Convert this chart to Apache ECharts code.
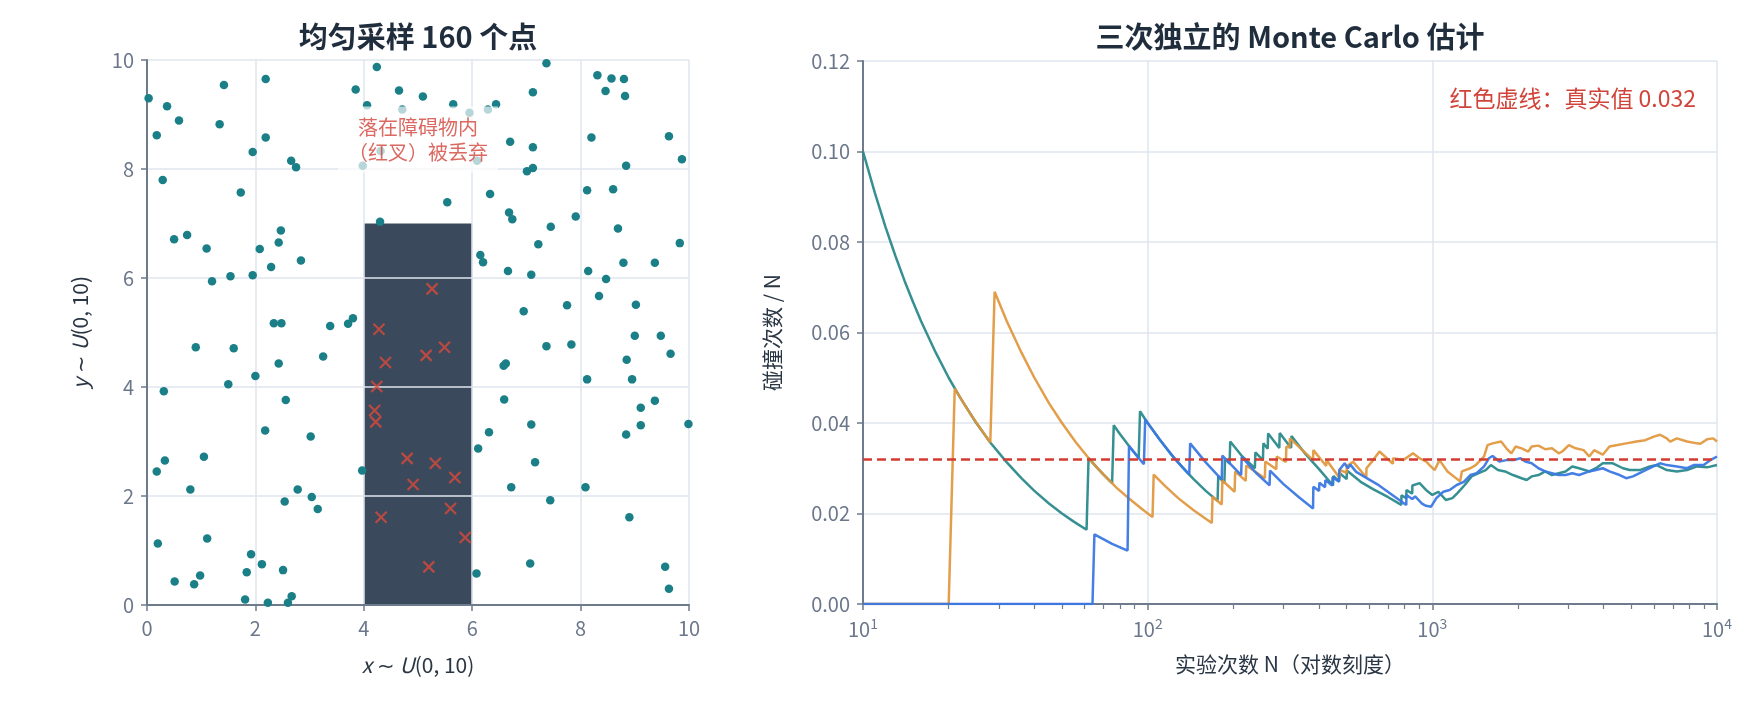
<!DOCTYPE html>
<html>
<head>
<meta charset="utf-8">
<script src="https://cdn.jsdelivr.net/npm/echarts@6/dist/echarts.min.js"></script>
<style>
  html, body { margin: 0; padding: 0; background: #fff; }
  #chart { width: 1760px; height: 704px; }
</style>
</head>
<body>
<div id="chart"></div>
<script>
// ---- 左图：均匀采样的点 ----
const dotPoints = [
  [0.03, 9.30], [0.18, 8.62], [0.37, 9.15], [0.59, 8.89], [0.29, 7.80], [1.42, 9.54], [1.34, 8.82],
  [2.19, 9.65], [2.19, 8.58], [1.95, 8.31], [2.66, 8.15], [2.75, 8.03], [1.73, 7.57], [0.50, 6.71],
  [0.74, 6.79], [1.10, 6.54], [1.20, 5.94], [1.54, 6.03], [1.95, 6.05], [2.08, 6.53], [2.29, 6.20],
  [2.43, 6.65], [2.47, 6.87], [2.84, 6.32], [3.85, 9.46], [4.06, 9.17],
  [4.24, 9.87], [4.65, 9.44], [5.09, 9.33], [5.65, 9.19], [4.71, 9.09], [5.95, 9.03], [6.29, 9.09],
  [6.44, 9.19], [7.12, 9.41], [7.37, 9.94], [8.31, 9.72], [8.57, 9.66], [8.46, 9.43], [8.20, 8.58],
  [6.70, 8.50], [7.12, 8.40], [7.12, 8.02], [7.01, 7.96], [4.31, 8.33], [3.98, 8.06], [6.09, 8.15],
  [5.54, 7.39], [4.30, 7.03], [6.33, 7.54], [6.68, 7.20], [6.74, 7.08], [7.45, 6.94], [7.22, 6.62],
  [7.91, 7.13], [8.12, 7.61], [8.60, 7.63], [8.69, 6.91], [6.15, 6.42], [6.20, 6.29], [6.66, 6.13],
  [7.09, 6.06], [8.14, 6.13], [8.47, 5.98], [8.34, 5.67], [8.80, 9.65], [8.82, 9.34], [8.84, 8.06],
  [8.79, 6.28],
  [9.63, 8.60], [9.87, 8.18], [9.83, 6.64], [9.37, 6.28], [9.02, 5.51], [9.00, 4.94], [9.48, 4.94],
  [9.66, 4.61], [8.95, 4.14], [9.37, 3.75], [9.11, 3.62], [9.11, 3.30], [9.99, 3.32], [9.56, 0.70],
  [9.63, 0.30],
  [2.34, 5.17], [2.48, 5.17], [3.38, 5.12], [3.71, 5.16], [3.80, 5.26], [0.90, 4.73], [1.60, 4.71],
  [2.43, 4.43], [3.25, 4.56], [1.50, 4.05], [2.00, 4.20], [0.31, 3.92], [2.56, 3.76], [2.18, 3.20],
  [3.02, 3.09], [1.05, 2.72], [0.33, 2.65], [0.18, 2.45], [3.97, 2.47], [0.80, 2.12], [2.78, 2.12],
  [3.04, 1.98], [2.54, 1.90], [3.15, 1.76], [0.20, 1.13], [1.11, 1.22],
  [1.92, 0.93], [2.12, 0.75], [2.51, 0.64], [1.84, 0.60], [0.51, 0.43], [0.87, 0.38], [0.98, 0.54],
  [1.81, 0.10], [2.23, 0.04], [2.60, 0.04], [2.67, 0.16],
  [6.95, 5.39], [7.75, 5.50], [7.37, 4.75], [7.83, 4.78], [6.58, 4.39], [6.62, 4.43], [8.12, 4.14],
  [6.59, 3.77], [7.09, 3.31], [6.31, 3.17], [6.11, 2.87], [7.16, 2.62], [6.72, 2.16], [8.09, 2.16],
  [7.44, 1.92], [8.85, 4.50], [8.84, 3.13], [8.90, 1.61], [7.07, 0.76], [6.08, 0.58]
]
// 落在障碍物内的点（红叉）
const crossPoints = [
  [5.26, 5.80], [4.28, 5.06], [5.49, 4.73], [5.15, 4.58], [4.40, 4.45], [4.24, 4.01], [4.20, 3.57],
  [4.22, 3.36], [4.80, 2.69], [5.32, 2.60], [5.68, 2.34], [4.91, 2.21], [4.32, 1.61], [5.60, 1.77],
  [5.87, 1.24], [5.20, 0.70]
]
// 障碍物：x0, y0, x1, y1
const obstacle = [4, 0, 6, 7]
const noteAt = [5, 8.54]
const noteText = '落在障碍物内\n（红叉）被丢弃'

// ---- 右图：三次运行的 碰撞次数 / N ----
const tealRun = [
  [10, 0.1000], [11, 0.0909], [12, 0.0833], [13, 0.0769], [14, 0.0714], [15, 0.0667], [16, 0.0625],
  [18, 0.0556], [20, 0.0500], [22, 0.0455], [25, 0.0400], [28, 0.0357], [32, 0.0313], [36, 0.0278],
  [40, 0.0250], [45, 0.0222], [50, 0.0200], [55, 0.0182], [61, 0.0164],
  [62, 0.0323], [66, 0.0303], [70, 0.0286], [75, 0.0267],
  [76, 0.0395], [80, 0.0375], [86, 0.0349], [93, 0.0323],
  [94, 0.0426], [100, 0.0400], [110, 0.0364], [120, 0.0333], [132, 0.0303], [145, 0.0276], [160, 0.0250],
  [176, 0.0228], [177, 0.0282], [186, 0.0268], [187, 0.0321], [194, 0.0310], [195, 0.0359], [215, 0.0326],
  [238, 0.0300], [239, 0.0335], [254, 0.0318], [255, 0.0355], [264, 0.0343], [265, 0.0377], [290, 0.0345],
  [291, 0.0378], [319, 0.0345], [320, 0.0371], [360, 0.0330], [400, 0.0298], [448, 0.0262], [449, 0.0283],
  [470, 0.0271], [471, 0.0290], [500, 0.0276], [501, 0.0295], [560, 0.0270], [619, 0.0254], [700, 0.0236],
  [778, 0.0219], [779, 0.0240], [810, 0.0234], [811, 0.0252], [850, 0.0244], [851, 0.0262],
  [902, 0.0267], [950, 0.0252], [1000, 0.0241], [1050, 0.0248], [1115, 0.0230], [1176, 0.0234],
  [1225, 0.0245], [1300, 0.0263], [1374, 0.0282], [1455, 0.0289], [1540, 0.0296], [1606, 0.0307],
  [1700, 0.0296], [1800, 0.0293], [1920, 0.0285], [2059, 0.0278], [2145, 0.0274], [2234, 0.0282],
  [2360, 0.0285], [2492, 0.0293], [2632, 0.0285], [2780, 0.0289], [2937, 0.0293], [3101, 0.0304],
  [3276, 0.0300], [3559, 0.0293], [3758, 0.0300], [3969, 0.0311], [4306, 0.0311], [4674, 0.0300],
  [4936, 0.0296], [5357, 0.0296], [5812, 0.0304], [6138, 0.0307], [6660, 0.0296], [7229, 0.0293],
  [7846, 0.0296], [8510, 0.0304], [9232, 0.0302], [10000, 0.0307]
]
const orangeRun = [
  [10, 0], [20, 0], [21, 0.0476], [24, 0.0417], [28, 0.0357], [29, 0.0690], [32, 0.0625], [36, 0.0556],
  [40, 0.0500], [45, 0.0444], [50, 0.0400], [56, 0.0357], [63, 0.0317], [70, 0.0286], [78, 0.0256],
  [86, 0.0233], [95, 0.0211], [104, 0.0192], [105, 0.0286], [115, 0.0261], [128, 0.0234], [145, 0.0207],
  [168, 0.0179], [169, 0.0237], [182, 0.0220], [183, 0.0273], [202, 0.0248], [203, 0.0293], [221, 0.0272],
  [222, 0.0306], [258, 0.0278], [259, 0.0315], [283, 0.0298], [284, 0.0326], [306, 0.0314], [307, 0.0348],
  [315, 0.0346], [316, 0.0366], [381, 0.0318], [382, 0.0340], [424, 0.0305], [425, 0.0318], [473, 0.0278],
  [474, 0.0296], [500, 0.0290], [501, 0.0305], [527, 0.0314], [586, 0.0280], [587, 0.0300], [620, 0.0318],
  [652, 0.0337], [727, 0.0310], [728, 0.0322], [790, 0.0318], [855, 0.0333], [902, 0.0322], [950, 0.0315],
  [978, 0.0307], [1019, 0.0296], [1060, 0.0318], [1130, 0.0293], [1252, 0.0271], [1270, 0.0293],
  [1360, 0.0300], [1420, 0.0307], [1520, 0.0326], [1563, 0.0351], [1628, 0.0355], [1744, 0.0359],
  [1820, 0.0344], [1895, 0.0333], [1960, 0.0348], [2059, 0.0344], [2174, 0.0337], [2234, 0.0348],
  [2360, 0.0350], [2492, 0.0342], [2632, 0.0344], [2780, 0.0333], [2860, 0.0337], [3018, 0.0351],
  [3188, 0.0344], [3400, 0.0340], [3559, 0.0326], [3700, 0.0340], [3969, 0.0330], [4191, 0.0348],
  [4426, 0.0351], [4800, 0.0355], [5213, 0.0359], [5600, 0.0362], [6000, 0.0370], [6308, 0.0374],
  [6660, 0.0366], [6846, 0.0359], [7229, 0.0366], [7846, 0.0359], [8510, 0.0355], [8745, 0.0354],
  [9232, 0.0364], [9700, 0.0366], [10000, 0.0359]
]
const blueRun = [
  [10, 0], [64, 0], [65, 0.0154], [75, 0.0133], [85, 0.0118], [86, 0.0349], [92, 0.0326], [97, 0.0309],
  [98, 0.0408], [110, 0.0364], [125, 0.0320], [140, 0.0286], [141, 0.0355], [160, 0.0313], [182, 0.0275],
  [183, 0.0328], [213, 0.0285], [214, 0.0325], [240, 0.0290], [268, 0.0262], [269, 0.0295], [300, 0.0265],
  [340, 0.0236], [381, 0.0211], [382, 0.0259], [400, 0.0250], [401, 0.0268], [420, 0.0258], [421, 0.0274],
  [445, 0.0262], [446, 0.0280], [470, 0.0270], [471, 0.0296], [492, 0.0311], [505, 0.0300], [515, 0.0308],
  [540, 0.0292], [650, 0.0262], [810, 0.0219], [811, 0.0241], [850, 0.0232], [870, 0.0238], [920, 0.0222],
  [950, 0.0217], [990, 0.0215], [1033, 0.0234], [1093, 0.0248], [1150, 0.0252], [1218, 0.0263],
  [1290, 0.0270], [1360, 0.0285], [1430, 0.0289], [1520, 0.0304], [1580, 0.0322], [1628, 0.0327],
  [1720, 0.0315], [1820, 0.0318], [1930, 0.0318], [2040, 0.0322], [2120, 0.0315], [2234, 0.0311],
  [2360, 0.0300], [2492, 0.0293], [2632, 0.0289], [2780, 0.0285], [2937, 0.0285], [3101, 0.0289],
  [3276, 0.0285], [3559, 0.0293], [3758, 0.0296], [3969, 0.0300], [4191, 0.0293], [4550, 0.0285],
  [4800, 0.0278], [5070, 0.0282], [5500, 0.0293], [5980, 0.0304], [6308, 0.0311], [6660, 0.0307],
  [7229, 0.0304], [7846, 0.0300], [8280, 0.0307], [8980, 0.0307], [9485, 0.0318], [10000, 0.0326]
]
const trueValue = 0.032
const minorTickValues = [20, 30, 40, 50, 60, 70, 80, 90, 200, 300, 400, 500, 600, 700, 800, 900,
  2000, 3000, 4000, 5000, 6000, 7000, 8000, 9000]

const FONT = '"Noto Sans CJK SC", "Noto Sans", sans-serif'
const C = {
  title: '#1f2d3d', name: '#2b3645', tick: '#6b778a', axis: '#6e7b8c', grid: '#dfe6ee',
  dot: '#1b7f87', cross: '#d9493b', block: '#3a4a5c',
  teal: '#2b8a8c', orange: '#e0963c', blue: '#3b78e3', red: '#d23b30'
}

const axisBase = {
  axisLine: { lineStyle: { color: C.axis, width: 2 } },
  axisTick: { length: 6, lineStyle: { color: C.axis, width: 1.5 } },
  axisLabel: { color: C.tick, fontSize: 20, fontFamily: FONT, margin: 13 },
  splitLine: { show: true, lineStyle: { color: C.grid, width: 1.5 } },
  nameTextStyle: {
    color: C.name, fontSize: 21, fontFamily: FONT,
    rich: { i: { fontStyle: 'italic', fontSize: 21, fontFamily: FONT, color: C.name } }
  }
}

const chart = echarts.init(document.getElementById('chart'), null, { renderer: 'canvas' })

chart.setOption({
  animation: false,
  backgroundColor: '#ffffff',
  textStyle: { fontFamily: FONT },
  graphic: [
    { type: 'text', x: 418, y: 37, style: { text: '均匀采样 160 个点', fill: C.title, font: 'bold 29px ' + FONT, textAlign: 'center', textVerticalAlign: 'middle' } },
    { type: 'text', x: 1290, y: 37, style: { text: '三次独立的 Monte Carlo 估计', fill: C.title, font: 'bold 29px ' + FONT, textAlign: 'center', textVerticalAlign: 'middle' } },
    { type: 'text', x: 1696, y: 98, z: 20, style: { text: '红色虚线：真实值 0.032', fill: '#d1443a', font: '23px ' + FONT, textAlign: 'right', textVerticalAlign: 'middle' } }
  ],
  grid: [
    { left: 147, top: 60, width: 542, height: 545 },
    { left: 863, top: 61, width: 854, height: 543 }
  ],
  xAxis: [
    Object.assign({}, axisBase, {
      gridIndex: 0, type: 'value', min: 0, max: 10, interval: 2, z: 2,
      name: '{i|x} ∼ {i|U}(0, 10)', nameLocation: 'middle', nameGap: 50
    }),
    Object.assign({}, axisBase, {
      gridIndex: 1, type: 'log', logBase: 10, min: 10, max: 10000,
      axisLabel: Object.assign({}, axisBase.axisLabel, {
        formatter: v => '10{s|' + Math.round(Math.log10(v)) + '}',
        rich: { s: { fontSize: 14, color: C.tick, fontFamily: FONT, verticalAlign: 'bottom', padding: [0, 0, 10, 0] } }
      }),
      name: '实验次数 N（对数刻度）', nameLocation: 'middle', nameGap: 50
    }),
    {
      gridIndex: 1, type: 'value', min: 1, max: 4, position: 'bottom',
      axisLine: { show: false }, axisLabel: { show: false }, splitLine: { show: false },
      axisTick: { show: true, length: 5, lineStyle: { color: C.axis, width: 1.2 }, customValues: minorTickValues.map(Math.log10) }
    }
  ],
  yAxis: [
    Object.assign({}, axisBase, {
      gridIndex: 0, type: 'value', min: 0, max: 10, interval: 2, z: 2,
      name: '{i|y} ∼ {i|U}(0, 10)', nameLocation: 'middle', nameRotate: 90, nameGap: 56
    }),
    Object.assign({}, axisBase, {
      gridIndex: 1, type: 'value', min: 0, max: 0.12, interval: 0.02,
      axisLabel: Object.assign({}, axisBase.axisLabel, { formatter: v => v.toFixed(2) }),
      name: '碰撞次数 / N', nameLocation: 'middle', nameRotate: 90, nameGap: 80
    })
  ],
  series: [
    {
      type: 'custom', xAxisIndex: 0, yAxisIndex: 0, z: 1, silent: true,
      data: [obstacle],
      renderItem: (params, api) => {
        const p0 = api.coord([api.value(0), api.value(1)])
        const p1 = api.coord([api.value(2), api.value(3)])
        return {
          type: 'rect',
          shape: { x: p0[0], y: p1[1], width: p1[0] - p0[0], height: p0[1] - p1[1] },
          style: { fill: C.block }
        }
      }
    },
    {
      type: 'scatter', xAxisIndex: 0, yAxisIndex: 0, z: 3,
      data: dotPoints, symbolSize: 8.5, itemStyle: { color: C.dot, opacity: 1 }
    },
    {
      type: 'scatter', xAxisIndex: 0, yAxisIndex: 0, z: 4,
      data: crossPoints, symbol: 'path://M0,0L10,10M10,0L0,10', symbolSize: 11,
      itemStyle: { color: 'rgba(0,0,0,0)', borderColor: C.cross, borderWidth: 2.2 }
    },
    {
      type: 'scatter', xAxisIndex: 0, yAxisIndex: 0, z: 10, silent: true,
      data: [noteAt], symbolSize: 1, itemStyle: { color: 'rgba(0,0,0,0)' },
      label: {
        show: true, position: 'inside', formatter: noteText, align: 'center',
        color: '#d1443a', fontSize: 20, lineHeight: 25, fontFamily: FONT,
        backgroundColor: 'rgba(255,255,255,0.85)', padding: [8, 10]
      }
    },
    {
      type: 'line', xAxisIndex: 1, yAxisIndex: 1, data: tealRun, showSymbol: false, z: 2,
      lineStyle: { color: C.teal, width: 2.5, opacity: 0.95 }
    },
    {
      type: 'line', xAxisIndex: 1, yAxisIndex: 1, data: orangeRun, showSymbol: false, z: 3,
      lineStyle: { color: C.orange, width: 2.5, opacity: 0.92 }
    },
    {
      type: 'line', xAxisIndex: 1, yAxisIndex: 1, data: blueRun, showSymbol: false, z: 4,
      lineStyle: { color: C.blue, width: 2.5, opacity: 0.95 },
      markLine: {
        silent: true, symbol: 'none', precision: 4, label: { show: false },
        lineStyle: { color: C.red, type: [9, 5], width: 2.5 },
        data: [{ yAxis: trueValue }]
      }
    }
  ]
})
</script>
</body>
</html>
